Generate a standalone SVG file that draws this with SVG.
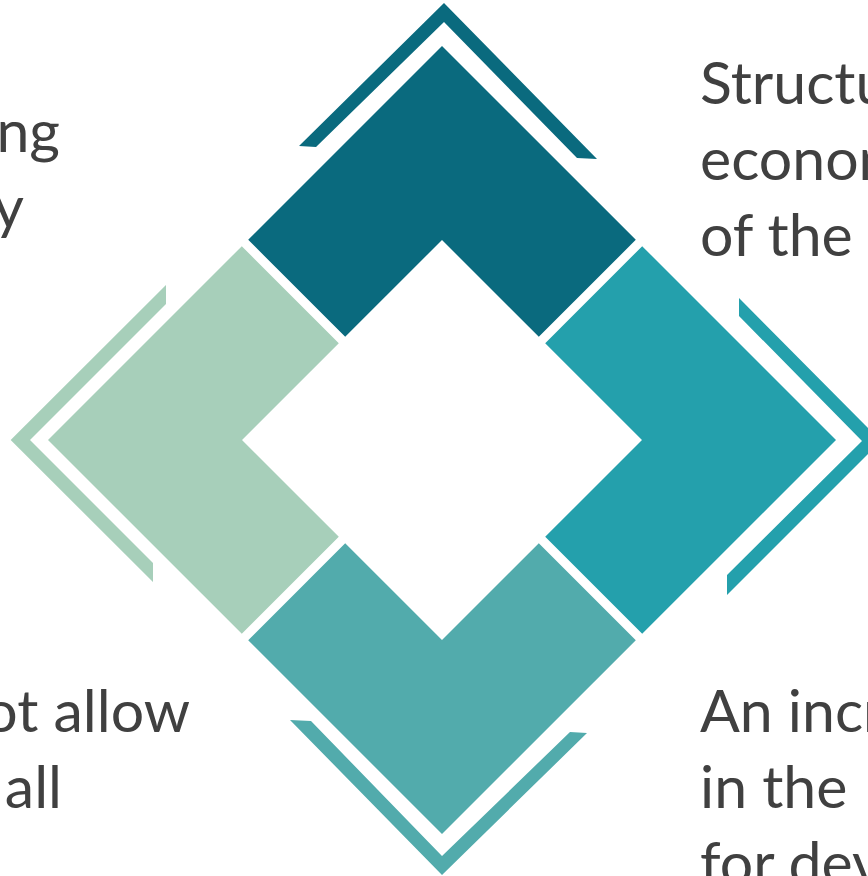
<svg xmlns="http://www.w3.org/2000/svg" width="868" height="876" viewBox="0 0 868 876">
  <style>
    .lbl { font-family: Lato, "Open Sans", "Liberation Sans", sans-serif; font-size: 59px; fill: #404040; }
    .c1 { fill: #0A6A7E; }
    .c2 { fill: #24A0AC; }
    .c3 { fill: #52ABAC; }
    .c4 { fill: #A7CFBA; }
  </style>
  <rect width="868" height="876" fill="#FFFFFF"/>

  <!-- top segment -->
  <g id="seg-top" class="c1">
    <polygon points="442,46 635.8,239.8 538.8,336.8 442,240 345.2,336.8 248.2,239.8"/>
    <polygon points="299,146 444,3 597,159 577,158 444,22 316,147"/>
  </g>

  <!-- right segment -->
  <g id="seg-right" class="c2">
    <polygon points="836,440 642.2,633.8 545.2,536.8 642,440 545.2,343.2 642.2,246.2"/>
    <polygon points="739,298 881,441 727,595 727,575 862,441 739,316"/>
  </g>

  <!-- bottom segment -->
  <g id="seg-bottom" class="c3">
    <polygon points="442,834 248.2,640.2 345.2,543.2 442,640 538.8,543.2 635.8,640.2"/>
    <polygon points="290,720 442,875 587,733 570,732 442,856 311,721"/>
  </g>

  <!-- left segment -->
  <g id="seg-left" class="c4">
    <polygon points="48,440 241.8,246.2 338.8,343.2 242,440 338.8,536.8 241.8,633.8"/>
    <polygon points="166,285 10.7,440 153,582 153,563 30,440 166,304"/>
  </g>

  <!-- captions -->
  <g id="text-top-left">
    <text class="lbl" x="60" y="152" text-anchor="end">ng</text>
    <text class="lbl" x="24" y="228" text-anchor="end">y</text>
  </g>
  <g id="text-top-right">
    <text class="lbl" x="700" y="104">Structu</text>
    <text class="lbl" x="700" y="180">econom</text>
    <text class="lbl" x="700" y="256">of the</text>
  </g>
  <g id="text-bottom-left">
    <text class="lbl" x="190" y="732" text-anchor="end">ot allow</text>
    <text class="lbl" x="62" y="808" text-anchor="end">all</text>
  </g>
  <g id="text-bottom-right">
    <text class="lbl" x="700" y="732">An incr</text>
    <text class="lbl" x="700" y="808">in the</text>
    <text class="lbl" x="700" y="884">for dev</text>
  </g>
</svg>
